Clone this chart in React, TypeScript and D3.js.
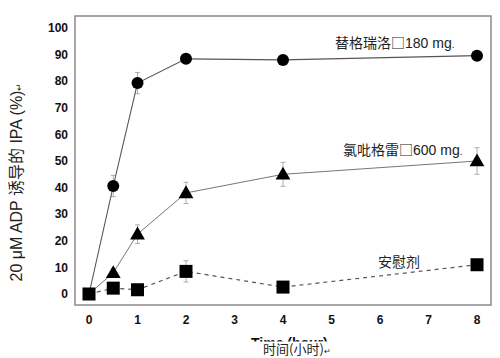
import React from "react";
import * as d3 from "d3";

const times = [0, 0.5, 1, 2, 4, 8];
const ticagrelor = [0, 40.6, 79.3, 88.4, 88, 89.6];
const ticagrelorErr = [0, 4, 4, 1.5, 1.5, 1.5];
const clopidogrel = [0, 8, 22.5, 38, 45, 50];
const clopidogrelErr = [0, 1.5, 3.5, 4, 4.5, 5];
const placebo = [0, 2.2, 1.6, 8.5, 2.6, 11];
const placeboErr = [0, 1.5, 1, 4, 1, 1.5];
const xTicks = [0, 1, 2, 3, 4, 5, 6, 7, 8];
const yTicks = [0, 10, 20, 30, 40, 50, 60, 70, 80, 90, 100];

const W = 500, H = 358;
const L = 75, R = 491, T = 16, B = 305;

export default function App() {
  const x = d3.scaleLinear().domain([0, 8]).range([89, 477]);
  const y = d3.scaleLinear().domain([0, 100]).range([294, 28]);
  const line = d3.line<[number, number]>().x(d => x(d[0])).y(d => y(d[1]));
  const pts = (v: number[]) => times.map((t, i) => [t, v[i]] as [number, number]);
  const font = "Arial, 'Liberation Sans', sans-serif";
  const mixed = "Arial, 'Liberation Sans', 'Noto Sans CJK SC', sans-serif";
  const cjk = "'Noto Sans CJK SC', sans-serif";

  const errBars = (vals: number[], errs: number[], key: string) =>
    times.map((t, i) =>
      errs[i] > 0 ? (
        <g key={key + i} stroke="#999" strokeWidth={0.8}>
          <line x1={x(t)} x2={x(t)} y1={y(vals[i] - errs[i])} y2={y(vals[i] + errs[i])} />
          <line x1={x(t) - 2.5} x2={x(t) + 2.5} y1={y(vals[i] - errs[i])} y2={y(vals[i] - errs[i])} />
          <line x1={x(t) - 2.5} x2={x(t) + 2.5} y1={y(vals[i] + errs[i])} y2={y(vals[i] + errs[i])} />
        </g>
      ) : null
    );

  const tri = d3.symbol().type(d3.symbolTriangle).size(95)();

  return (
    <svg width={W} height={H} style={{ position: "absolute", left: 0, top: 0, background: "#fff" }}>
      <rect x={0} y={0} width={W} height={H} fill="#fff" />
      <rect x={L} y={T} width={R - L} height={B - T} fill="none" stroke="#8a8a8a" strokeWidth={1.5} />
      {yTicks.map(v => (
        <text key={"y" + v} x={68} y={y(v)} dy="0.35em" textAnchor="end" fontFamily={font} fontSize={12} fontWeight="bold" fill="#111">
          {v}
        </text>
      ))}
      {xTicks.map(v => (
        <text key={"x" + v} x={x(v)} y={324} textAnchor="middle" fontFamily={font} fontSize={12} fontWeight="bold" fill="#111">
          {v}
        </text>
      ))}
      {errBars(ticagrelor, ticagrelorErr, "te")}
      {errBars(clopidogrel, clopidogrelErr, "ce")}
      {errBars(placebo, placeboErr, "pe")}
      <path d={line(pts(placebo)) || ""} fill="none" stroke="#555" strokeWidth={1.2} strokeDasharray="4,4" />
      <path d={line(pts(clopidogrel)) || ""} fill="none" stroke="#777" strokeWidth={1} />
      <path d={line(pts(ticagrelor)) || ""} fill="none" stroke="#555" strokeWidth={1.1} />
      {times.map((t, i) => (
        <circle key={"c" + i} cx={x(t)} cy={y(ticagrelor[i])} r={6} fill="#000" />
      ))}
      {times.slice(1).map((t, i) => (
        <path key={"t" + i} d={tri || ""} transform={`translate(${x(t)},${y(clopidogrel[i + 1]) + 1})`} fill="#000" />
      ))}
      {times.map((t, i) => (
        <rect key={"s" + i} x={x(t) - 6.5} y={y(placebo[i]) - 6.5} width={13} height={13} fill="#000" />
      ))}
      <rect x={376} y={252} width={46} height={18} fill="#fff" />
      <text x={378} y={267} fontFamily={cjk} fontSize={14} fill="#222">安慰剂</text>
      <text x={335} y={48} fontFamily={mixed} fontSize={14} fill="#222">
        <tspan fontFamily={cjk}>替格瑞洛□</tspan>180 mg<tspan fontSize={10}>.</tspan>
      </text>
      <text x={343} y={155} fontFamily={mixed} fontSize={14} fill="#222">
        <tspan fontFamily={cjk}>氯吡格雷□</tspan>600 mg<tspan fontSize={10}>.</tspan>
      </text>
      <text transform="translate(22,182) rotate(-90)" textAnchor="middle" fontFamily={mixed} fontSize={16} fill="#222">
        20 μM ADP 诱导的 IPA (%)<tspan fontSize={9}>↵</tspan>
      </text>
      <text x={251} y={348} fontFamily={font} fontSize={14} fontWeight="bold" fill="#111">Time (hour)</text>
      <rect x={240} y={341.5} width={110} height={17} fill="#fff" />
      <text x={263} y={354} fontFamily={cjk} fontSize={13} fill="#222">时间(小时)<tspan fontSize={8}>↵</tspan></text>
    </svg>
  );
}
